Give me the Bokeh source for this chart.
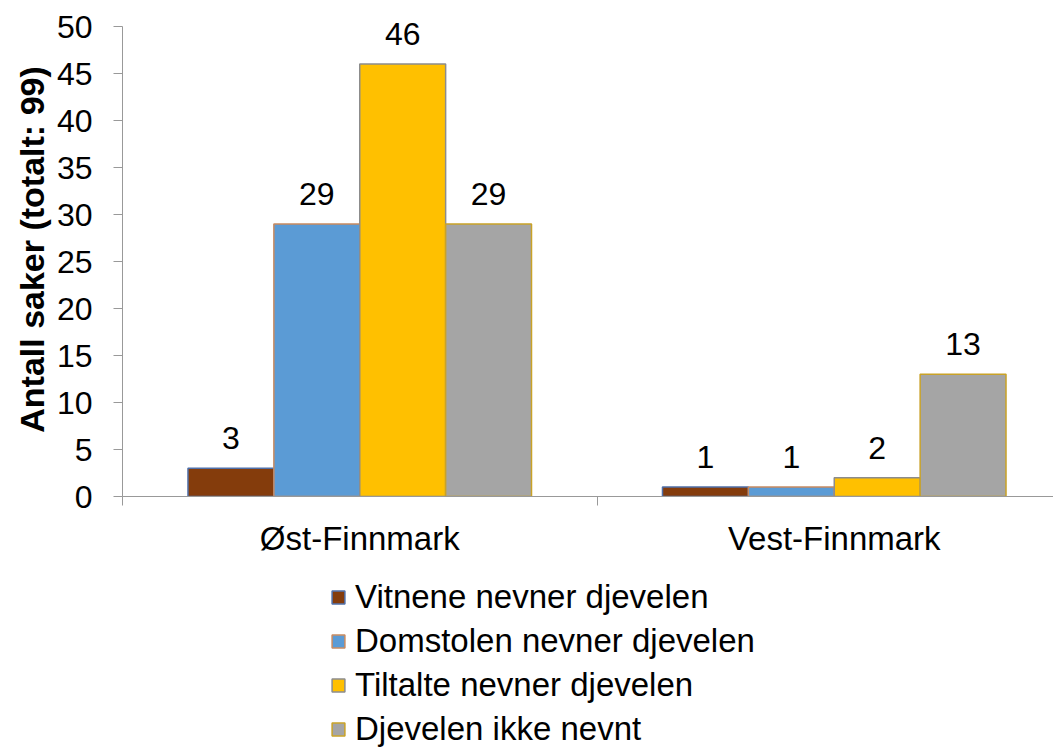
from bokeh.plotting import figure
from bokeh.layouts import column
from bokeh.models import ColumnDataSource, Range1d, FixedTicker, Legend, LegendItem
from bokeh.transform import dodge
from bokeh.core.properties import value
from bokeh.embed import file_html
from bokeh.resources import INLINE

categories = ["Øst-Finnmark", "Vest-Finnmark"]
series = ["Vitnene nevner djevelen", "Domstolen nevner djevelen",
          "Tiltalte nevner djevelen", "Djevelen ikke nevnt"]
vitnene = [3, 1]
domstolen = [29, 1]
tiltalte = [46, 2]
ikke_nevnt = [29, 13]
y_ticks = [0, 5, 10, 15, 20, 25, 30, 35, 40, 45, 50]

fills = ["#843C0C", "#5B9BD5", "#FFC000", "#A5A5A5"]
outlines = ["#4F6FA8", "#C88A60", "#8C8C8C", "#C9A227"]
FONT = "Liberation Sans"

xpos = [i + 0.5 for i in range(len(categories))]
src = ColumnDataSource(dict(
    x=xpos, vitnene=vitnene, domstolen=domstolen, tiltalte=tiltalte, ikke=ikke_nevnt,
    t_vitnene=[str(v) for v in vitnene], t_domstolen=[str(v) for v in domstolen],
    t_tiltalte=[str(v) for v in tiltalte], t_ikke=[str(v) for v in ikke_nevnt],
))

W = 1053
H_MAIN = 570
H_LEG = 178
LEFT = 122
TOP = 2
BOTTOM = 74
frame_h = H_MAIN - TOP - BOTTOM           # 494 px, of which 470 px span 0..50
y_end = 50 * frame_h / 470.0
p = figure(width=W, height=H_MAIN, output_backend="svg", toolbar_location=None,
           x_range=Range1d(0, (W - LEFT) / 474.5), y_range=Range1d(0, y_end),
           min_border_left=LEFT, min_border_right=0, min_border_top=TOP, min_border_bottom=BOTTOM)
p.title.visible = False
p.outline_line_color = None
p.xgrid.visible = False
p.ygrid.visible = False
p.background_fill_color = "white"
p.border_fill_color = "white"

bw = 0.181
cols = ["vitnene", "domstolen", "tiltalte", "ikke"]
for k, c in enumerate(cols):
    off = (k - 1.5) * bw
    p.vbar(x=dodge("x", off), top=c, width=bw, source=src,
           fill_color=fills[k], line_color=outlines[k], line_width=1.5)
    p.text(x=dodge("x", off), y=c, text="t_" + c, source=src,
           text_font=value(FONT), text_font_size="32px", text_color="black",
           text_align="center", text_baseline="alphabetic", y_offset=-30)

# x axis
xa = p.xaxis[0]
xa.ticker = FixedTicker(ticks=xpos, minor_ticks=[0, 1, 2])
xa.major_label_overrides = {xp: c for xp, c in zip(xpos, categories)}
xa.major_tick_out = 0
xa.major_tick_in = 0
xa.minor_tick_out = 9
xa.minor_tick_in = 0
xa.minor_tick_line_color = "#999999"
xa.axis_line_color = "#999999"
xa.major_label_text_font = FONT
xa.major_label_text_font_size = "33px"
xa.major_label_text_color = "black"
xa.major_label_standoff = 14

# y axis
ya = p.yaxis[0]
ya.ticker = FixedTicker(ticks=y_ticks)
ya.bounds = (0, 50)
ya.major_tick_out = 9
ya.major_tick_in = 0
ya.minor_tick_line_color = None
ya.major_tick_line_color = "#999999"
ya.axis_line_color = "#999999"
ya.major_label_text_font = FONT
ya.major_label_text_font_size = "32px"
ya.major_label_text_color = "black"
ya.major_label_standoff = 21
ya.axis_label = "Antall saker (totalt: 99)"
ya.axis_label_text_font = FONT
ya.axis_label_text_font_size = "34px"
ya.axis_label_text_font_style = "bold"
ya.axis_label_text_color = "black"
ya.axis_label_standoff = 3

# legend figure: swatches use the same data, kept out of view by the ranges
q = figure(width=W, height=H_LEG, output_backend="svg", toolbar_location=None,
           x_axis_type=None, y_axis_type=None,
           x_range=Range1d(-40, -38), y_range=Range1d(1000, 1001),
           min_border=0, min_border_left=LEFT, outline_line_color=None)
q.title.visible = False
q.xgrid.visible = False
q.ygrid.visible = False
proxies = []
for k, c in enumerate(cols):
    proxies.append(q.vbar(x=dodge("x", (k - 1.5) * bw), top=c, width=bw, source=src,
                          fill_color=fills[k], line_color=outlines[k], line_width=1.5))
legend = Legend(items=[LegendItem(label=s, renderers=[r]) for s, r in zip(series, proxies)],
                location=(208, 0), orientation="vertical",
                label_text_font=FONT, label_text_font_size="33px", label_text_color="black",
                glyph_width=16, glyph_height=16, label_standoff=9,
                label_height=30, spacing=6, padding=0, margin=0,
                border_line_color=None, background_fill_alpha=0)
q.add_layout(legend, "center")

layout = column(p, q, spacing=0)
open("out.html", "w").write(file_html(layout, INLINE))
